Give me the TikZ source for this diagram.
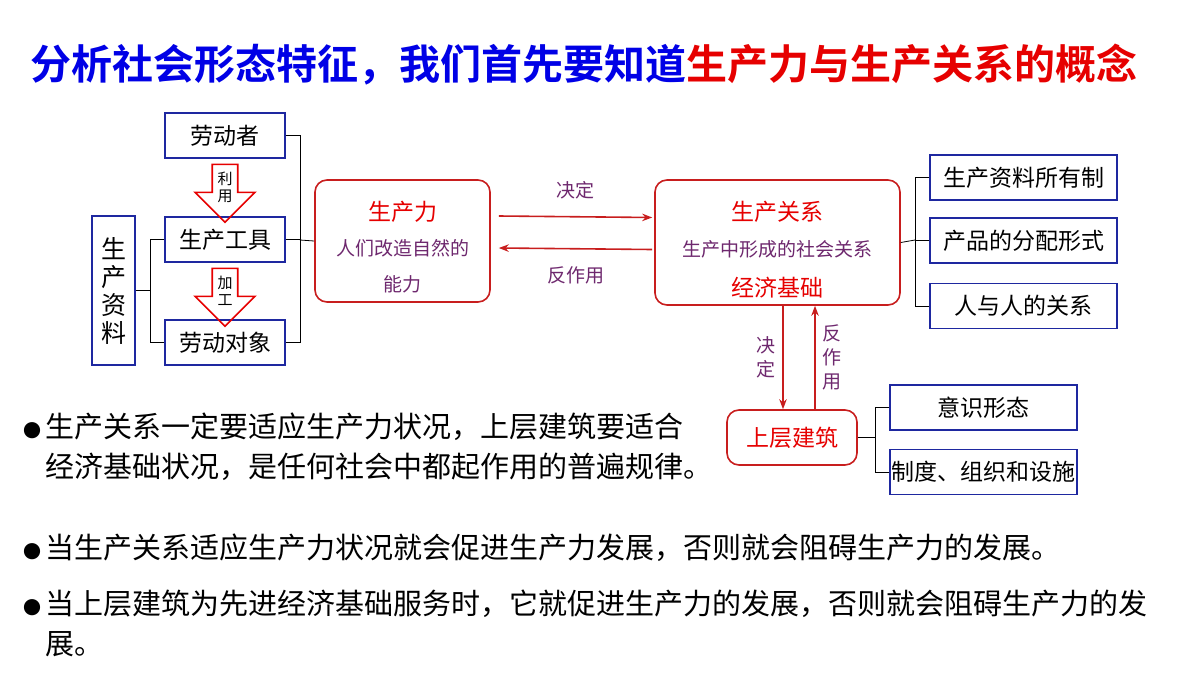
\documentclass[tikz,border=0pt]{standalone}
\usepackage{fontspec}
\setmainfont{Noto Sans CJK SC}
\newfontfamily\cjkbold[BoldFont={* Bold}]{Noto Sans CJK SC}
\usetikzlibrary{shapes.arrows,arrows.meta}
\definecolor{tblue}{RGB}{0,0,230}
\definecolor{tred}{RGB}{230,0,0}
\definecolor{boxblue}{RGB}{30,40,160}
\definecolor{boxred}{RGB}{200,30,30}
\definecolor{kai}{RGB}{110,40,110}
\newcommand{\dotmark}{{\fontsize{9}{10}\selectfont●}\,}
\begin{document}
\begin{tikzpicture}[
    x=0.5pt, y=-0.5pt,
    bbox/.style={rectangle, draw=boxblue, thick, fill=white, font=\fontsize{11.5}{13}\selectfont, inner sep=0pt},
    rbox/.style={rectangle, rounded corners=6pt, draw=boxred, thick, fill=white, inner sep=0pt},
    hollow/.style={single arrow, draw=tred, thick, shape border rotate=270, minimum width=30pt, minimum height=29pt, single arrow head extend=7pt, inner sep=1pt, font=\fontsize{7.5}{8.5}\selectfont, align=center},
    link/.style={-{Stealth[length=5pt]}, thick, boxred},
    note/.style={font=\fontsize{9.5}{10}\selectfont, text=kai},
    bullet/.style={anchor=west, font=\fontsize{14.5}{20}\selectfont, align=left}
]
    \useasboundingbox (0,0) rectangle (1200,675);
    % Title
    \node[anchor=west, font=\cjkbold\bfseries\fontsize{20.5}{24}\selectfont, inner sep=0pt] (title) at (30,65)
        {\textcolor{tblue}{分析社会形态特征，我们首先要知道}\textcolor{tred}{生产力与生产关系的概念}};

    % Means of production
    \node[bbox, minimum width=60pt, minimum height=22.5pt] (worker) at (225,135.5) {劳动者};
    \node[bbox, minimum width=60pt, minimum height=22.5pt] (tool) at (225,239.5) {生产工具};
    \node[bbox, minimum width=60pt, minimum height=22.5pt] (object) at (225,342.5) {劳动对象};
    \node[bbox, minimum width=21.5pt, minimum height=74.5pt, align=center, font=\fontsize{12.5}{14}\selectfont] (means) at (113.5,290.5) {生\\产\\资\\料};
    \node[hollow] (use) at (225,187) {利\\用};
    \node[hollow] (work) at (225,291) {加\\工};

    % Productive forces and relations
    \node[rbox, minimum width=87.5pt, minimum height=61pt] (force) at (402.5,241) {};
    \node[text=tred, font=\fontsize{11.5}{13}\selectfont] (forcet) at (402.5,212) {生产力};
    \node[note] (forcea) at (402.5,248) {人们改造自然的};
    \node[note] (forceb) at (402.5,284) {能力};
    \node[rbox, minimum width=122.5pt, minimum height=62.5pt] (relation) at (777.5,242.5) {};
    \node[text=tred, font=\fontsize{11.5}{13}\selectfont] (relt) at (777.5,212) {生产关系};
    \node[note] (rela) at (777.5,249) {生产中形成的社会关系};
    \node[text=tred, font=\fontsize{11.5}{13}\selectfont] (relb) at (777.5,288) {经济基础};

    \node[bbox, minimum width=93.5pt, minimum height=22.5pt] (own) at (1023.5,177.5) {生产资料所有制};
    \node[bbox, minimum width=93.5pt, minimum height=22.5pt] (dist) at (1023.5,240.5) {产品的分配形式};
    \node[bbox, minimum width=93.5pt, minimum height=22.5pt] (people) at (1023.5,306) {人与人的关系};

    \node[rbox, minimum width=65pt, minimum height=27.5pt, text=tred, font=\fontsize{11.5}{13}\selectfont] (super) at (792,437.5) {上层建筑};
    \node[bbox, minimum width=93.5pt, minimum height=22.5pt] (ideo) at (983.5,407.5) {意识形态};
    \node[bbox, minimum width=93.5pt, minimum height=22.5pt] (inst) at (983.5,472) {制度、组织和设施};

    % Brackets
    \draw[thin] (worker.east) -- (300,135.5) -- (300,342.5) -- (object.east);
    \draw[thin] (tool.east) -- (300,239.5);
    \draw[thin] (300,240) -- (force.west);
    \draw[thin] (means.east) -- (150,290.5);
    \draw[thin] (tool.west) -- (150,239.5) -- (150,342.5) -- (object.west);
    \draw[thin] (relation.east) -- (915,240);
    \draw[thin] (own.west) -- (915,177.5) -- (915,306) -- (people.west);
    \draw[thin] (dist.west) -- (915,240.5);
    \draw[thin] (super.east) -- (875,437.5);
    \draw[thin] (ideo.west) -- (875,407.5) -- (875,472) -- (inst.west);

    % Connectors
    \draw[link] ([xshift=4pt,yshift=12.5pt]force.east) -- node[above=5pt, note] {决定} ([xshift=-1pt,yshift=12.5pt]relation.west);
    \draw[link] ([xshift=-1pt,yshift=-3.5pt]relation.west) -- node[below=5pt, note] {反作用} ([xshift=4pt,yshift=-3.5pt]force.east);
    \draw[link] ([xshift=2.75pt]relation.south) -- node[left, note, align=center, font=\fontsize{9.5}{12}\selectfont] {决\\定} ([xshift=-4.5pt]super.north);
    \draw[link] ([xshift=11.5pt]super.north) -- node[right, note, align=center, font=\fontsize{9.5}{12}\selectfont] {反\\作\\用} ([xshift=18.75pt]relation.south);

    % Statements
    \node[bullet] (s1) at (16,447) {\dotmark 生产关系一定要适应生产力状况，上层建筑要适合\\\phantom{\dotmark}经济基础状况，是任何社会中都起作用的普遍规律。};
    \node[bullet] (s2) at (16,548) {\dotmark 当生产关系适应生产力状况就会促进生产力发展，否则就会阻碍生产力的发展。};
    \node[bullet] (s3) at (16,623) {\dotmark 当上层建筑为先进经济基础服务时，它就促进生产力的发展，否则就会阻碍生产力的发\\\phantom{\dotmark}展。};
\end{tikzpicture}
\end{document}
